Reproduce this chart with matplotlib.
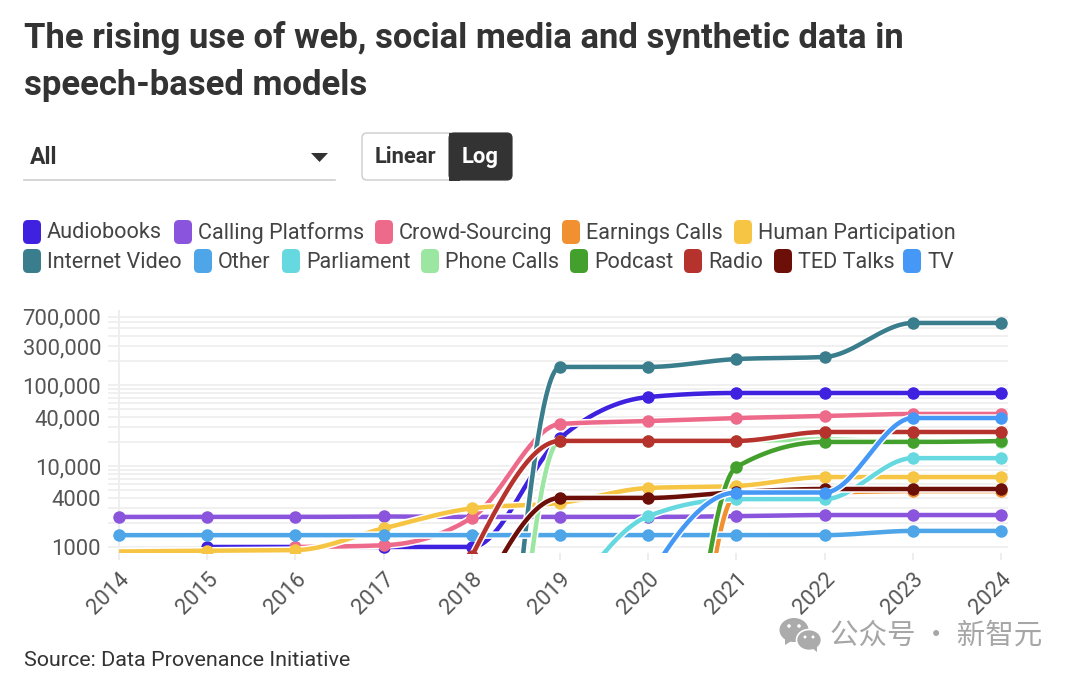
import numpy as np
import matplotlib
matplotlib.use("Agg")
import matplotlib.pyplot as plt
import matplotlib.patheffects as pe
from matplotlib.patches import FancyBboxPatch, Polygon, Ellipse, Rectangle, Circle

COND = 'Roboto'

years = [2014, 2015, 2016, 2017, 2018, 2019, 2020, 2021, 2022, 2023, 2024]
series_names = ["Audiobooks", "Calling Platforms", "Crowd-Sourcing", "Earnings Calls", "Human Participation",
                "Internet Video", "Other", "Parliament", "Phone Calls", "Podcast", "Radio", "TED Talks", "TV"]
colors = ["#3f22e0", "#8a55dc", "#ee6a8a", "#f09030", "#f6c544", "#3a7d8c", "#4ea5e8", "#66d8e0", "#9be6a0",
          "#43a02c", "#b5332c", "#6b0f08", "#4598f5"]

audiobooks = [None, 1000, 1000, 1000, 1000, 22000, 71000, 79700, 79700, 79700, 79700]
calling = [2350, 2350, 2350, 2380, 2350, 2350, 2350, 2400, 2480, 2480, 2480]
crowd = [None, None, 1000, 1050, 2300, 33000, 35900, 39100, 41400, 43900, 43900]
earnings = [None, None, None, None, None, None, 0.000001, 4400, 4700, 4900, 4900]
human = [880, 900, 915, 1700, 3000, 3500, 5350, 5660, 7300, 7300, 7300]
internet = [None, None, None, None, 0.00001, 167000, 167000, 209000, 222000, 583000, 583000]
other = [1400, 1400, 1400, 1400, 1400, 1400, 1400, 1400, 1400, 1580, 1580]
parliament = [None, None, None, None, None, 150, 2400, 3900, 3900, 12500, 12500]
phone = [None, None, None, None, 0.000001, 20400, 20400, 20400, 21300, 19800, 19800]
podcast = [None, None, None, None, None, None, 0.0001, 9700, 19800, 19800, 20300]
radio = [None, None, None, None, 770, 20400, 20400, 20400, 26300, 26300, 26300]
ted = [None, None, None, None, 150, 4030, 4030, 4770, 5200, 5200, 5200]
tv = [None, None, None, None, None, 1, 400, 4700, 4700, 39100, 39100]
all_series = [audiobooks, calling, crowd, earnings, human, internet, other, parliament, phone, podcast, radio, ted, tv]

y_ticks = [1000, 4000, 10000, 40000, 100000, 300000, 700000]
grid_vals = [m * 10 ** e for e in (3, 4, 5) for m in range(1, 10) if m * 10 ** e <= 700000]


def monotone(xs, ys, n=60):
    xs = np.asarray(xs, float); ys = np.asarray(ys, float)
    h = np.diff(xs); s = np.diff(ys) / h
    m = np.zeros(len(xs))
    for i in range(1, len(xs) - 1):
        if s[i - 1] * s[i] > 0:
            p = (s[i - 1] * h[i] + s[i] * h[i - 1]) / (h[i - 1] + h[i])
            m[i] = (np.sign(s[i - 1]) + np.sign(s[i])) * min(abs(s[i - 1]), abs(s[i]), 0.5 * abs(p))
    if len(xs) > 2:
        m[0] = (3 * s[0] - m[1]) / 2
        m[-1] = (3 * s[-1] - m[-2]) / 2
    else:
        m[:] = s
    ox, oy = [], []
    for i in range(len(xs) - 1):
        t = np.linspace(0, 1, n)
        oy.append((2*t**3-3*t**2+1)*ys[i] + (t**3-2*t**2+t)*h[i]*m[i] + (-2*t**3+3*t**2)*ys[i+1] + (t**3-t**2)*h[i]*m[i+1])
        ox.append(xs[i] + t * h[i])
    return np.concatenate(ox), np.concatenate(oy)


W, H = 1080, 680
fig = plt.figure(figsize=(W / 100, H / 100), dpi=100, facecolor='white')
px = 72 / 100

ui = fig.add_axes([0, 0, 1, 1])
ui.set_xlim(0, W); ui.set_ylim(H, 0); ui.axis('off')

L, R, T, B = 108, 1008, 310, 553
ax = fig.add_axes([L / W, 1 - B / H, (R - L) / W, (B - T) / H])
ax.set_xlim(2014 - 11 / 88.2, 2024 + 7 / 88.2)
ax.set_yscale('log')
ax.set_ylim(843, 843000)
ax.patch.set_alpha(0)
for s in ax.spines.values():
    s.set_visible(False)

for g in grid_vals:
    ax.axhline(g, color='#f0f0f0', lw=2 * px, zorder=0)
ax.plot([2014, 2014], [843, 810000], color='#eeeeee', lw=2 * px, zorder=0.5)

for name, col, vals in zip(series_names, colors, all_series):
    xs = [y for y, v in zip(years, vals) if v is not None]
    ys = [np.log10(v) for v in vals if v is not None]
    cx, cy = monotone(xs, ys)
    ax.plot(cx, 10 ** cy, color=col, lw=4.5 * px, solid_capstyle='butt', zorder=2,
            path_effects=[pe.Stroke(linewidth=7.5 * px, foreground='white'), pe.Normal()])
    # the reference shows no marker on the first Human Participation point
    every = 1 if name == "Human Participation" else None
    mx = xs[every:] if every else xs
    my = ys[every:] if every else ys
    ax.plot(mx, 10 ** np.array(my), 'o', color=col, ms=12.5 * px, mew=0, zorder=2)

ax.set_xticks(years)
ax.set_xticklabels(years, rotation=45, ha='right', rotation_mode='anchor', fontsize=22 * px, color='#555555',
                   family=COND)
ax.tick_params(axis='x', length=7 * px, width=2 * px, color='#eeeeee', pad=6)
ax.set_yticks(y_ticks)
ax.set_yticklabels([f"{v:,}" if v >= 10000 else str(v) for v in y_ticks], fontsize=22 * px, color='#555555',
                   family=COND)
ax.tick_params(axis='y', which='both', length=0, pad=5)
ax.minorticks_off()

ui.text(24, 38, "The rising use of web, social media and synthetic data in", fontsize=34.7 * px, weight='bold',
        family=COND, color='#333333', va='center')
ui.text(24, 86, "speech-based models", fontsize=34.7 * px, weight='bold', family=COND, color='#333333', va='center')

ui.text(30, 157, "All", fontsize=23 * px, weight='bold', family=COND, color='#333333', va='center')
ui.add_patch(Polygon([(311, 153), (328, 153), (319.5, 162)], closed=True, color='#333333', lw=0))
ui.plot([24, 335], [180, 180], color='#cccccc', lw=1.6 * px)
ui.add_patch(FancyBboxPatch((362, 133), 150, 47, boxstyle="round,pad=0,rounding_size=5", fc='white', ec='#cccccc',
                            lw=1.4 * px))
ui.add_patch(FancyBboxPatch((449, 133), 63, 47, boxstyle="round,pad=0,rounding_size=5", fc='#333333', ec='#333333',
                            lw=1 * px))
ui.add_patch(Rectangle((449, 133), 10, 47, fc='#333333', ec='#333333', lw=1 * px))
ui.text(405.5, 157, "Linear", fontsize=22 * px, weight='bold', family=COND, color='#333333', va='center', ha='center')
ui.text(480, 157, "Log", fontsize=22 * px, weight='bold', family=COND, color='white', va='center', ha='center')

legend_rows = [(232, [(23, 0), (174, 1), (375, 2), (562, 3), (734, 4)]),
               (261, [(23, 5), (194, 6), (282, 7), (421, 8), (570, 9), (684, 10), (774, 11), (903, 12)])]
for yc, row in legend_rows:
    for x0, idx in row:
        ui.add_patch(FancyBboxPatch((x0, yc - 12), 18, 24, boxstyle="round,pad=0,rounding_size=5", fc=colors[idx],
                                    ec='none'))
        ui.text(x0 + 24, yc + 1, series_names[idx], fontsize=21.7 * px, family=COND, color='#444444', va='center')

ui.text(24, 660, "Source: Data Provenance Initiative", fontsize=21.5 * px, family=COND, color='#333333', va='center')

ICON = '#ababab'
ui.add_patch(Ellipse((794, 630), 29, 24, fc=ICON, ec='none'))
ui.add_patch(Polygon([(785, 638), (785, 645), (793, 640)], closed=True, fc=ICON, ec='none'))
ui.add_patch(Ellipse((809, 640), 25, 21, fc=ICON, ec='white', lw=1.2))
ui.add_patch(Polygon([(812, 648), (817, 652), (817, 646)], closed=True, fc=ICON, ec='none'))
for ex, ey, er in [(789, 626, 1.8), (799, 626, 1.8), (805, 637, 1.5), (813, 637, 1.5)]:
    ui.add_patch(Circle((ex, ey), er, fc='white', ec='none'))
ui.text(830, 636, "公众号 · 新智元", fontsize=28.5 * px, family=['Noto Sans CJK SC', 'DejaVu Sans'], color='#a6a6a6',
        va='center')

fig.savefig('out.png', dpi=100)
